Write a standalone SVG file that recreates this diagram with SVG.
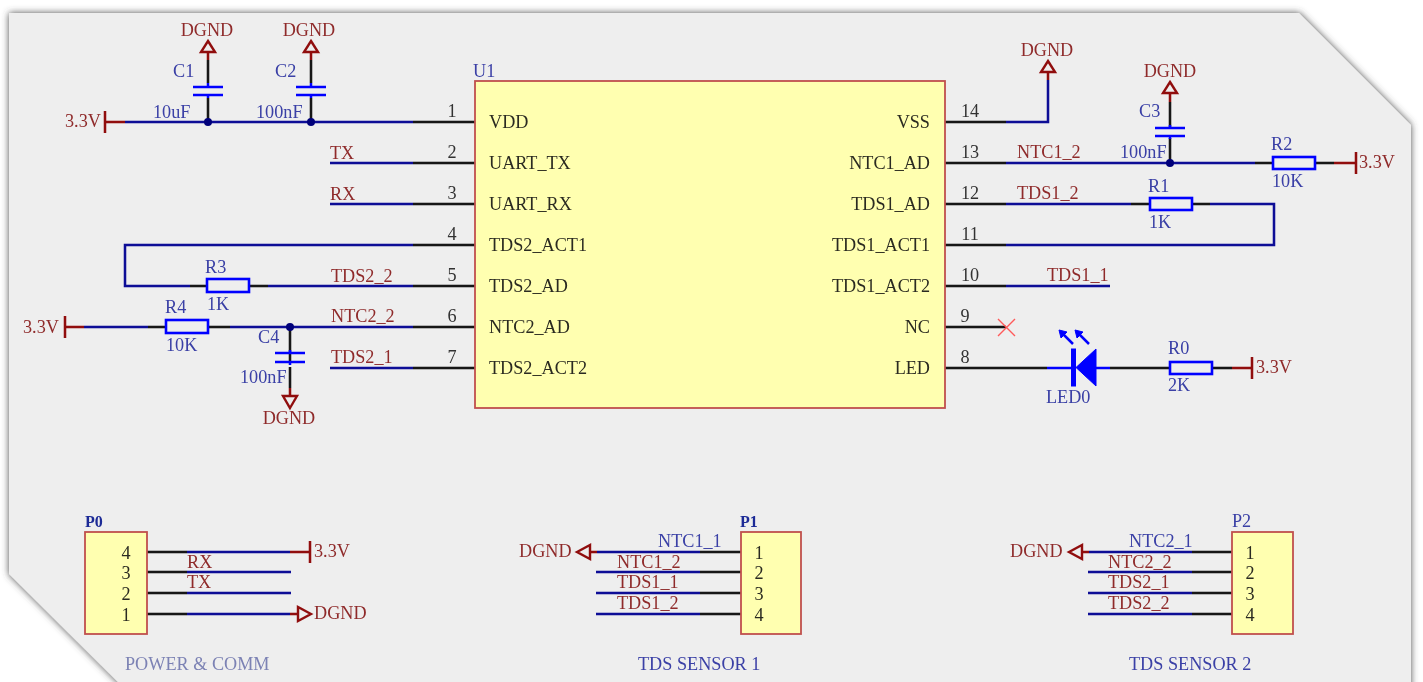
<svg xmlns="http://www.w3.org/2000/svg" width="1423" height="682" viewBox="0 0 1423 682">
<defs>
<filter id="sh" x="-5%" y="-5%" width="110%" height="110%"><feDropShadow dx="0" dy="0" stdDeviation="3.5" flood-color="#444" flood-opacity="0.95"/></filter>
<filter id="soft" x="0" y="0" width="1423" height="682" filterUnits="userSpaceOnUse"><feGaussianBlur stdDeviation="0.4"/></filter>
</defs>
<style>
text{font-family:"Liberation Serif","Times New Roman",serif;font-size:18.2px}
.n{fill:#8f2b2b}
.c{fill:#3a40a6}
.k{fill:#2b2b20}
.k text{transform:translateY(1px)}
.p{fill:#333;font-size:17px}
.m{text-anchor:middle}
.e{text-anchor:end}
.b{font-weight:bold;font-size:16px;fill:#1c2a96}
.w,.pin,.pw,.sym,.x{fill:none;stroke-width:2.5}
.w{stroke:#0a0a96}
.pin{stroke:#151515}
.pw{stroke:#900f0f}
.arrow{fill:none;stroke:#900f0f;stroke-width:2.4}
.sym{stroke:#0000ff}
.symf{fill:#0000ff;stroke:#0000ff}
.x{stroke:#ff5a5a;stroke-width:1.4}
.body{fill:#ffffb0;stroke:#c0504d;stroke-width:1.8}
.j{fill:#00007a}
.res{fill:none;stroke:#0000ff;stroke-width:2.6}
</style>
<polygon id="sheet" points="9,13 1299,13 1411,125 1411,700 136,700 9,574" fill="#eeeeee" filter="url(#sh)"/>
<g filter="url(#soft)">
<g id="connectors">
<path class="w" d="M125 122H413M330 163H413M330 204H413M413 245H125V286H190M268 286H413M84 327H148M230 327H413M330 368H413"/>
<path class="pin" d="M413 122H475M413 163H475M413 204H475M413 245H475M413 286H475M413 327H475M413 368H475M190 286H207M249 286H268M148 327H166M208 327H230M945 122H1006M945 163H1006M945 204H1006M945 245H1006M945 286H1006M945 327H1006M945 368H1047M1110 368H1170M1212 368H1232M1255 163H1273M1315 163H1334M1131 204H1149M1192 204H1210"/>
<path class="w" d="M1006 122H1048V80M1006 163H1255M1006 204H1131M1210 204H1274V245H1006M1006 286H1110"/>
<path class="pin" d="M208 122V98M208 83V60M311 122V98M311 83V60M290 327V362M290 367V388M1170 163V138M1170 127V102"/>
<path class="pin" d="M147 552H187M147 572H187M147 593H187M147 614H187M700 552H741M700 572H741M700 593H741M700 614H741M1192 552H1232M1192 572H1232M1192 593H1232M1192 614H1232"/>
<path class="w" d="M187 552H290M187 572H291M187 593H291M187 614H290M597 552H700M596 572H700M596 593H700M596 614H700M1089 552H1192M1088 572H1192M1088 593H1192M1088 614H1192"/>
</g>
<g id="U1">
<rect class="body" x="475" y="81" width="470" height="327"/>
<text class="c" x="473" y="77">U1</text>
<g class="k">
<text x="489" y="127">VDD</text><text x="489" y="168">UART_TX</text><text x="489" y="209">UART_RX</text><text x="489" y="250">TDS2_ACT1</text><text x="489" y="291">TDS2_AD</text><text x="489" y="332">NTC2_AD</text><text x="489" y="373">TDS2_ACT2</text>
<text class="e" x="930" y="127">VSS</text><text class="e" x="930" y="168">NTC1_AD</text><text class="e" x="930" y="209">TDS1_AD</text><text class="e" x="930" y="250">TDS1_ACT1</text><text class="e" x="930" y="291">TDS1_ACT2</text><text class="e" x="930" y="332">NC</text><text class="e" x="930" y="373">LED</text>
</g>
<g class="p m">
<text x="452" y="117">1</text><text x="452" y="158">2</text><text x="452" y="199">3</text><text x="452" y="240">4</text><text x="452" y="281">5</text><text x="452" y="322">6</text><text x="452" y="363">7</text>
<text x="970" y="117">14</text><text x="970" y="158">13</text><text x="970" y="199">12</text><text x="970" y="240">11</text><text x="970" y="281">10</text><text x="965" y="322">9</text><text x="965" y="363">8</text>
</g>
</g>
<g id="C1"><path class="sym" d="M193 87H223M193 95H223M208 83V87M208 95V98"/><circle class="j" cx="208" cy="122" r="4"/><text class="c" x="173" y="77">C1</text><text class="c" x="153" y="118">10uF</text></g>
<g id="C2"><path class="sym" d="M296 87H326M296 95H326M311 83V87M311 95V98"/><circle class="j" cx="311" cy="122" r="4"/><text class="c" x="275" y="77">C2</text><text class="c" x="256" y="118">100nF</text></g>
<g id="C3"><path class="sym" d="M1155 128H1185M1155 136H1185M1170 125V128M1170 136V139"/><circle class="j" cx="1170" cy="163" r="4"/><text class="c" x="1139" y="117">C3</text><text class="c" x="1120" y="158">100nF</text></g>
<g id="C4"><path class="sym" d="M275 353H305M275 362H305M290 350V353M290 362V365"/><circle class="j" cx="290" cy="327" r="4"/><text class="c" x="258" y="343">C4</text><text class="c" x="240" y="383">100nF</text></g>
<g id="R0"><rect class="res" x="1170" y="362" width="42" height="12"/><text class="c" x="1168" y="354">R0</text><text class="c" x="1168" y="391">2K</text></g>
<g id="R1"><rect class="res" x="1150" y="198" width="42" height="12"/><text class="c" x="1148" y="192">R1</text><text class="c" x="1149" y="228">1K</text></g>
<g id="R2"><rect class="res" x="1273" y="157" width="42" height="12"/><text class="c" x="1271" y="150">R2</text><text class="c" x="1272" y="187">10K</text></g>
<g id="R3"><rect class="res" x="207" y="279" width="42" height="13"/><text class="c" x="205" y="273">R3</text><text class="c" x="207" y="310">1K</text></g>
<g id="R4"><rect class="res" x="166" y="320" width="42" height="13"/><text class="c" x="165" y="313">R4</text><text class="c" x="166" y="351">10K</text></g>
<g id="LED0"><path class="sym" d="M1047 368H1073M1096 368H1110"/><rect class="symf" x="1071.500" y="349" width="4" height="37"/><polygon class="symf" points="1096,349 1096,386 1076,367.500"/>
<path class="sym" d="M1073 344L1062 333M1089 344L1078 333"/><polygon class="symf" points="1059,330 1067,332 1061,338"/><polygon class="symf" points="1075,330 1083,332 1077,338"/><text class="c" x="1046" y="403">LED0</text></g>
<g id="NC-mark"><path class="x" d="M998 319L1015 336M998 336L1015 319"/></g>
<g id="power-ports">
<path class="pw" d="M105 111V133M105 122H125M65 316V338M65 327H84M1356 152V174M1334 163H1356M1252 357V379M1232 368H1252M310 541V563M290 552H310"/>
<path class="pw" d="M208 60V52M311 60V52M1048 80V72M1170 102V93M290 388V396M290 614H298M590 552H597M1082 552H1089"/>
<g class="arrow"><polygon points="208,41 215,52 201,52"/><polygon points="311,41 318,52 304,52"/><polygon points="1048,61 1055,72 1041,72"/><polygon points="1170,82 1177,93 1163,93"/><polygon points="290,408 297,396 283,396"/><polygon points="311,614 298,607 298,621"/><polygon points="577,552 590,545 590,559"/><polygon points="1069,552 1082,545 1082,559"/></g>
<g class="n"><text class="m" x="207" y="36">DGND</text><text class="m" x="309" y="36">DGND</text><text class="m" x="1047" y="56">DGND</text><text class="m" x="1170" y="77">DGND</text><text class="m" x="289" y="424">DGND</text><text x="314" y="619">DGND</text><text x="519" y="557">DGND</text><text x="1010" y="557">DGND</text>
<text x="65" y="127">3.3V</text><text x="23" y="333">3.3V</text><text x="1359" y="168">3.3V</text><text x="1256" y="373">3.3V</text><text x="314" y="557">3.3V</text></g>
</g>
<g id="net-labels" class="n">
<text x="330" y="159">TX</text><text x="330" y="200">RX</text><text x="331" y="282">TDS2_2</text><text x="331" y="322">NTC2_2</text><text x="331" y="363">TDS2_1</text>
<text x="1017" y="158">NTC1_2</text><text x="1017" y="199">TDS1_2</text><text x="1047" y="281">TDS1_1</text>
<text x="187" y="568">RX</text><text x="187" y="588">TX</text>
<text x="617" y="568">NTC1_2</text><text x="617" y="588">TDS1_1</text><text x="617" y="609">TDS1_2</text>
<text x="1108" y="568">NTC2_2</text><text x="1108" y="588">TDS2_1</text><text x="1108" y="609">TDS2_2</text>
</g>
<g id="P0"><rect class="body" x="85" y="532" width="62" height="102"/><text class="b" x="85" y="527">P0</text><g class="k m"><text x="126" y="558">4</text><text x="126" y="578">3</text><text x="126" y="599">2</text><text x="126" y="620">1</text></g><text x="125" y="670" fill="#7c82b4">POWER &amp; COMM</text></g>
<g id="P1"><rect class="body" x="741" y="532" width="60" height="102"/><text class="b" x="740" y="527">P1</text><g class="k m"><text x="759" y="558">1</text><text x="759" y="578">2</text><text x="759" y="599">3</text><text x="759" y="620">4</text></g><text class="c" x="658" y="547">NTC1_1</text><text class="c" x="638" y="670">TDS SENSOR 1</text></g>
<g id="P2"><rect class="body" x="1232" y="532" width="61" height="102"/><text class="c" x="1232" y="527">P2</text><g class="k m"><text x="1250" y="558">1</text><text x="1250" y="578">2</text><text x="1250" y="599">3</text><text x="1250" y="620">4</text></g><text class="c" x="1129" y="547">NTC2_1</text><text class="c" x="1129" y="670">TDS SENSOR 2</text></g>
</g>
</svg>
